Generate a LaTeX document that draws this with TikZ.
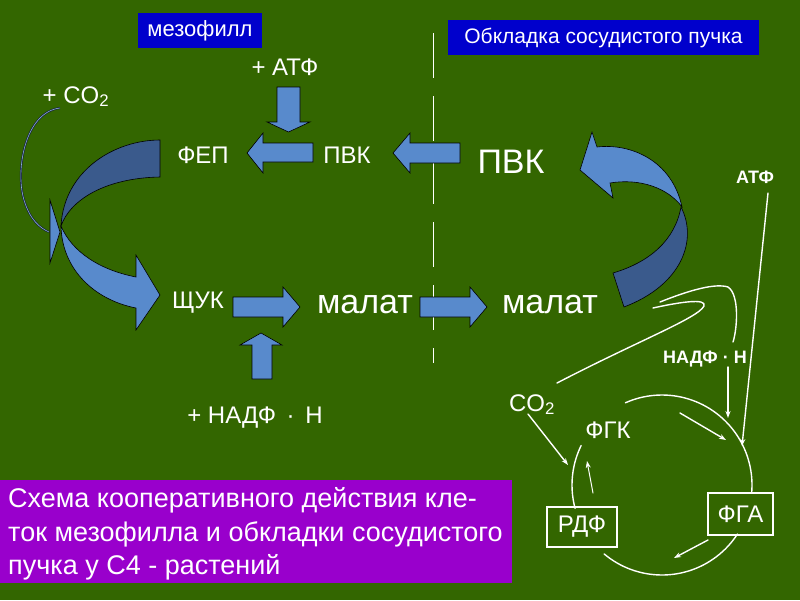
\documentclass[tikz,border=0pt]{standalone}
\usepackage{fontspec}
\setmainfont{Liberation Sans}
\usetikzlibrary{arrows.meta}
\definecolor{bg}{RGB}{51,102,0}
\definecolor{lb}{RGB}{88,138,204}
\definecolor{db}{RGB}{58,90,140}
\definecolor{hdr}{RGB}{0,0,204}
\definecolor{pur}{RGB}{153,0,204}
\begin{document}
\begin{tikzpicture}[x=1pt,y=-1pt,
  sm/.style={text=white,inner sep=0pt,font=\fontsize{24}{24}\selectfont},
  mid/.style={text=white,inner sep=0pt,font=\fontsize{24}{24}\selectfont},
  bigt/.style={text=white,inner sep=0pt,font=\fontsize{34}{34}\selectfont},
  bld/.style={text=white,inner sep=0pt,font=\fontsize{18}{18}\selectfont\bfseries},
  hbox/.style={fill=hdr,inner sep=0pt,text=white,minimum height=35pt},
  boxw/.style={draw=white,line width=1.5pt,inner sep=0pt,text=white,font=\fontsize{24}{24}\selectfont},
  captxt/.style={text=white,inner sep=0pt,font=\fontsize{27}{27}\selectfont},
  blk/.style={fill=lb,draw=black,line width=0.6pt,line join=miter},
  wl/.style={draw=white,line width=1.4pt,line cap=round},
  wa/.style={wl,-{Stealth[length=7pt,width=5pt]}}]
\fill[bg] (0,0) rectangle (800,600);
\useasboundingbox (0,0) rectangle (800,600);

% header boxes
\node[hbox,minimum width=124pt,font=\fontsize{22}{22}\selectfont] (mes) at (200,30.5) {мезофилл};
\node[hbox,minimum width=311pt,font=\fontsize{21}{21}\selectfont] (obk) at (603.5,37.5) {Обкладка сосудистого пучка};

% dashed divider
\coordinate (dtop) at (433,33);
\coordinate (dbot) at (433,363);
\draw[white,line width=1pt,dash pattern=on 45pt off 18pt] (dtop) -- (dbot);

% labels
\node[sm,anchor=base] (atf1) at (285,75) {+ АТФ};
\node[sm,anchor=base] (co2a) at (76,103) {+ CO\textsubscript{2}};
\node[sm,anchor=base] (fep) at (203,163) {ФЕП};
\node[sm,anchor=base] (pvk1) at (347,163) {ПВК};
\node[bigt,anchor=base] (pvk2) at (511,173) {ПВК};
\node[sm,anchor=base] (shuk) at (198,308) {ЩУК};
\node[bigt,anchor=base] (mal1) at (365,313) {малат};
\node[bigt,anchor=base] (mal2) at (550,313) {малат};
\node[sm,anchor=base] (nadph1) at (255,423) {+ НАДФ \,·\, Н};
\node[bld,anchor=base] (atf2) at (755,183) {АТФ};
\node[bld,anchor=base] (nadph2) at (705,363) {НАДФ · Н};
\node[mid,anchor=base] (co2b) at (532,411) {CO\textsubscript{2}};
\node[mid,anchor=base] (fgk) at (608,438) {ФГК};
\node[boxw,minimum width=70pt,minimum height=40pt] (rdf) at (582,527) {РДФ};
\node[boxw,minimum width=65pt,minimum height=42pt] (fga) at (740.5,514) {ФГА};

% block arrows
\filldraw[blk] (277,87) -- (300,87) -- (300,122) -- (310,122) -- (288.5,132) -- (267,122) -- (277,122) -- cycle;
\filldraw[blk] (313,143) -- (263,143) -- (263,133) -- (247,153) -- (263,173) -- (263,162) -- (313,162) -- cycle;
\filldraw[blk] (460,143) -- (410,143) -- (410,133) -- (393,153) -- (410,173) -- (410,163) -- (460,163) -- cycle;
\filldraw[blk] (233,297) -- (283,297) -- (283,287) -- (300,307) -- (283,327) -- (283,317) -- (233,317) -- cycle;
\filldraw[blk] (420,297) -- (470,297) -- (470,287) -- (487,307) -- (470,327) -- (470,317) -- (420,317) -- cycle;
\filldraw[blk] (252,379) -- (252,345) -- (240,345) -- (261,333) -- (282,345) -- (272,345) -- (272,379) -- cycle;

% left curved arrow
\draw[draw=black!60!db,line width=2pt] (60,108) .. controls (25,112) and (15,170) .. (24,200) .. controls (30,220) and (40,228) .. (49,232);
\draw[draw=lb!70!white,line width=0.6pt] (60,108) .. controls (25,112) and (15,170) .. (24,200) .. controls (30,220) and (40,228) .. (49,232);
\filldraw[blk] (50,200) -- (60,232) -- (50,263) -- cycle;
\filldraw[blk,fill=db] (160,140) .. controls (115,140) and (64,170) .. (61,226) .. controls (70,200) and (105,178) .. (160,177) -- cycle;
\filldraw[blk] (61,226) .. controls (62,270) and (95,300) .. (136,308) -- (136,330) -- (160,295) -- (136,255) -- (136,277) .. controls (100,270) and (72,252) .. (61,226) -- cycle;

% right curved arrow
\filldraw[blk,fill=db] (681,207) .. controls (698,240) and (682,285) .. (624,307) -- (613,273) .. controls (650,262) and (675,240) .. (681,207) -- cycle;
\filldraw[blk] (580,170) -- (592,132) -- (597,147) .. controls (630,143) and (672,160) .. (682,207) .. controls (668,188) and (640,178) .. (610,183) -- (613,198) -- cycle;

% Calvin cycle
\draw[wl] plot[domain=-114:5,samples=50] ({662+90*cos(\x)},{485+90*sin(\x)});
\draw[wl] plot[domain=165:206,samples=20] ({662+90*cos(\x)},{485+90*sin(\x)});
\draw[wl] plot[domain=33:130,samples=40] ({662+90*cos(\x)},{485+90*sin(\x)});

\coordinate (co2s) at (528,414);
\coordinate (co2e) at (568,465);
\draw[wa] (co2s) -- (co2e);
\coordinate (atfs) at (768,193);
\coordinate (atfe) at (742,446);
\draw[wa] (atfs) -- (atfe);
\coordinate (nads) at (728,367);
\coordinate (nade) at (728,418);
\draw[wa] (nads) -- (nade);
\coordinate (rdfs) at (593,493);
\coordinate (rdfe) at (587,461);
\draw[wa,line width=1pt] (rdfs) -- (rdfe);
\coordinate (ins1) at (680,413);
\coordinate (ine1) at (726,440);
\draw[wa] (ins1) -- (ine1);
\coordinate (ins2) at (708,540);
\coordinate (ine2) at (674,558);
\draw[wa] (ins2) -- (ine2);

% freehand lines from CO2 / to NADPH
\coordinate (hka) at (557,383);
\coordinate (hkb) at (653,308);
\draw[wl] (hka) .. controls (640,340) and (698,318) .. (704,306) .. controls (707,298) and (680,302) .. (hkb);
\coordinate (lpa) at (660,302);
\coordinate (lpb) at (733,342);
\draw[wl] (lpa) .. controls (690,290) and (715,283) .. (728,287) .. controls (740,295) and (737,330) .. (lpb);

% caption box
\fill[pur] (0,480) rectangle (512,583);
\node[captxt,anchor=base west] (cap1) at (8,507) {Схема кооперативного действия кле-};
\node[captxt,anchor=base west] (cap2) at (8,541) {ток мезофилла и обкладки сосудистого};
\node[captxt,anchor=base west] (cap3) at (8,574) {пучка у С4 - растений};
\end{tikzpicture}
\end{document}
